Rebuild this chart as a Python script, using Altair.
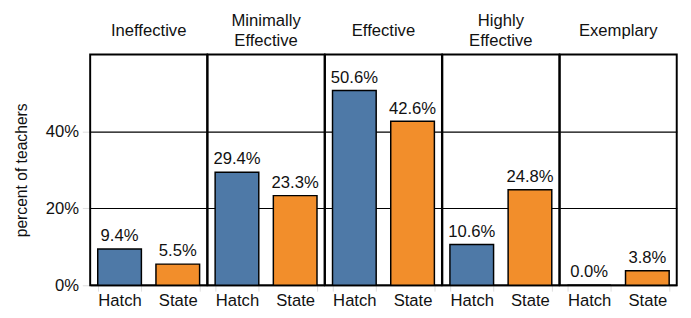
import altair as alt
import pandas as pd

categories = ["Ineffective", "Minimally|Effective", "Effective", "Highly|Effective", "Exemplary"]
groups = ["Hatch", "State"]
hatch = [0.094, 0.294, 0.506, 0.106, 0.000]
state = [0.055, 0.233, 0.426, 0.248, 0.038]

rows = []
for c, h, s in zip(categories, hatch, state):
    rows.append({"rating": c, "group": "Hatch", "value": h})
    rows.append({"rating": c, "group": "State", "value": s})
df = pd.DataFrame(rows)

FONT = "Liberation Sans"
FS = 17
W = 119.6
H = 236

base = alt.Chart()
bars = base.mark_bar(stroke="black", strokeWidth=1.5).encode(
    x=alt.X("group:N", sort=groups, title=None,
            scale=alt.Scale(paddingInner=0.25, paddingOuter=0.13),
            axis=alt.Axis(labelAngle=0, labelFontSize=FS, labelColor="#111",
                          tickColor="#ddd", tickSize=6, tickBand="extent",
                          domain=False, labelPadding=2)),
    y=alt.Y("value:Q", title="percent of teachers",
            scale=alt.Scale(domain=[0, 0.6], nice=False),
            axis=alt.Axis(format=".0%", values=[0, 0.2, 0.4], labelFontSize=FS,
                          labelColor="#111", titleFontSize=16, titleFontWeight="normal",
                          titleColor="#111", tickColor="#ddd", tickSize=8,
                          gridColor="black", gridWidth=1.2, gridOpacity=1,
                          domain=False, labelPadding=4, titlePadding=16)),
    color=alt.Color("group:N", legend=None,
                    scale=alt.Scale(domain=groups, range=["#4e79a7", "#f28e2b"])),
)
text = base.mark_text(dy=-8, baseline="alphabetic", fontSize=FS, color="#111", font=FONT).encode(
    x=alt.X("group:N", sort=groups),
    y=alt.Y("value:Q"),
    text=alt.Text("value:Q", format=".1%"),
)
hdr = base.mark_text(fontSize=FS, color="#111", font=FONT, baseline="middle").transform_filter(
    "datum.group == 'Hatch'"
).transform_calculate(
    line1="split(datum.rating, '|')[0]",
    line2="split(datum.rating, '|')[1]",
)
header1 = hdr.encode(x=alt.value(W / 2), y=alt.value(-24), text="line1:N").transform_filter(
    "indexof(datum.rating, '|') < 0")
header2a = hdr.encode(x=alt.value(W / 2), y=alt.value(-34), text="line1:N").transform_filter(
    "indexof(datum.rating, '|') >= 0")
header2b = hdr.encode(x=alt.value(W / 2), y=alt.value(-14), text="line2:N").transform_filter(
    "indexof(datum.rating, '|') >= 0")

chart = alt.layer(bars, text, header1, header2a, header2b, data=df).properties(
    width=W, height=H).facet(
    column=alt.Column("rating:N", sort=categories, title=None,
                      header=alt.Header(labels=False, title=None)),
    spacing=0,
    bounds="flush",
).properties(
    padding={"top": 0, "left": 5, "right": 5, "bottom": 5}
).configure(font=FONT).configure_view(stroke="black", strokeWidth=2).configure_axis(
    labelFont=FONT, titleFont=FONT)

chart.save("out.html", embed_options={"renderer": "svg", "actions": False})
